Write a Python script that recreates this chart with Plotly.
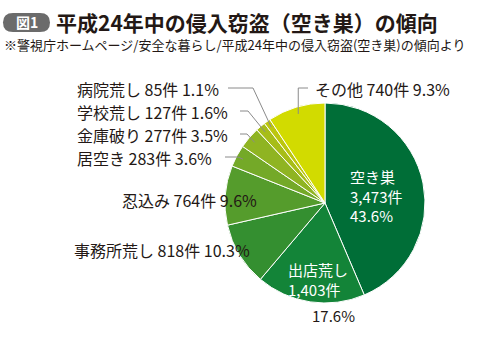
import math
import plotly.graph_objects as go

# ---- data ----
categories = ["空き巣", "出店荒し", "事務所荒し", "忍込み", "居空き", "金庫破り", "学校荒し", "病院荒し", "その他"]
counts = [3473, 1403, 818, 764, 283, 277, 127, 85, 740]
percents = [43.6, 17.6, 10.3, 9.6, 3.6, 3.5, 1.6, 1.1, 9.3]
colors = ["#006e37", "#138438", "#348f30", "#559c2c", "#74a928", "#8fb422", "#a7bd18", "#bcc60e", "#d2db00"]

W, H = 500, 340
CX, CY, R = 325, 203, 100
FONT = "Noto Sans CJK JP"
TXT = "#231815"

def px(x):
    return x / W

def py(y):
    return 1 - y / H

fig = go.Figure()
fig.add_trace(go.Pie(
    labels=categories, values=counts, sort=False, direction="clockwise", rotation=0,
    marker=dict(colors=colors, line=dict(color="white", width=1)),
    textinfo="none", hoverinfo="skip", showlegend=False,
    domain=dict(x=[px(CX - R), px(CX + R)], y=[py(CY + R), py(CY - R)]),
))

annotations = []
shapes = []

def ann(text, x, y, xanchor="left", color=TXT, size=16, bold=False):
    annotations.append(dict(
        text=f"<b>{text}</b>" if bold else text, x=px(x), y=py(y), xref="paper", yref="paper",
        xanchor=xanchor, yanchor="middle", showarrow=False, align="left",
        font=dict(family=FONT, size=size, color=color),
    ))

# slice mid angles from data
total = sum(counts)
cum = 0
mids = []
for v in counts:
    mids.append((cum + v / 2) / total * 2 * math.pi)
    cum += v

def slice_point(i, rf=0.93):
    a = mids[i]
    return CX + R * rf * math.sin(a), CY - R * rf * math.cos(a)

# inside labels
ann(f"{categories[0]}<br>{counts[0]:,}件<br>{percents[0]}%", 348, 196, color="white", size=15)
ann(f"{categories[1]}<br>{counts[1]:,}件", 286, 279.5, color="white", size=15)
ann(f"{percents[1]}%", 310, 315, size=15)

# outside labels
def small_label(i):
    return f"{categories[i]} {counts[i]}件 {percents[i]}%"

ann(small_label(3), 120, 200)
ann(small_label(2), 72, 250)
ann(small_label(8), 313, 89)

# labels with leader lines: (index, text y, line start x, elbow x)
leaders = [(7, 89, 228, 253), (6, 112, 240, 248), (5, 135, 240, 247), (4, 158, 225, 238)]
for i, ty, x0, x1 in leaders:
    ann(small_label(i), 75, ty)
    sx, sy = slice_point(i)
    ly = ty - 1
    shapes.append(dict(
        type="path", xref="paper", yref="paper",
        path=f"M {px(x0)},{py(ly)} L {px(x1)},{py(ly)} L {px(sx)},{py(sy)}",
        line=dict(color="#8a8a8a", width=1),
    ))

# その他 leader
sx, sy = slice_point(8)
shapes.append(dict(
    type="path", xref="paper", yref="paper",
    path=f"M {px(308)},{py(88)} L {px(sx)},{py(88)} L {px(sx)},{py(sy)}",
    line=dict(color="#8a8a8a", width=1),
))

# title badge
shapes.append(dict(
    type="path", xref="paper", yref="paper",
    path=(f"M {px(13)},{py(13)} L {px(40)},{py(13)} Q {px(50)},{py(13)} {px(50)},{py(22.5)} "
          f"Q {px(50)},{py(32)} {px(40)},{py(32)} L {px(13)},{py(32)} Q {px(3)},{py(32)} {px(3)},{py(22.5)} "
          f"Q {px(3)},{py(13)} {px(13)},{py(13)} Z"),
    fillcolor="#6b6b6b", line=dict(width=0),
))
ann("図1", 27, 22.5, xanchor="center", color="white", size=14, bold=True)
ann("平成24年中の侵入窃盗（空き巣）の傾向", 54, 22, size=21, bold=True)
ann("※警視庁ホームページ/安全な暮らし/平成24年中の侵入窃盗(空き巣)の傾向より", 2, 45, size=13)

fig.update_layout(
    width=W, height=H, margin=dict(l=0, r=0, t=0, b=0),
    paper_bgcolor="white", plot_bgcolor="white",
    annotations=annotations, shapes=shapes,
)
fig.write_html("out.html")
